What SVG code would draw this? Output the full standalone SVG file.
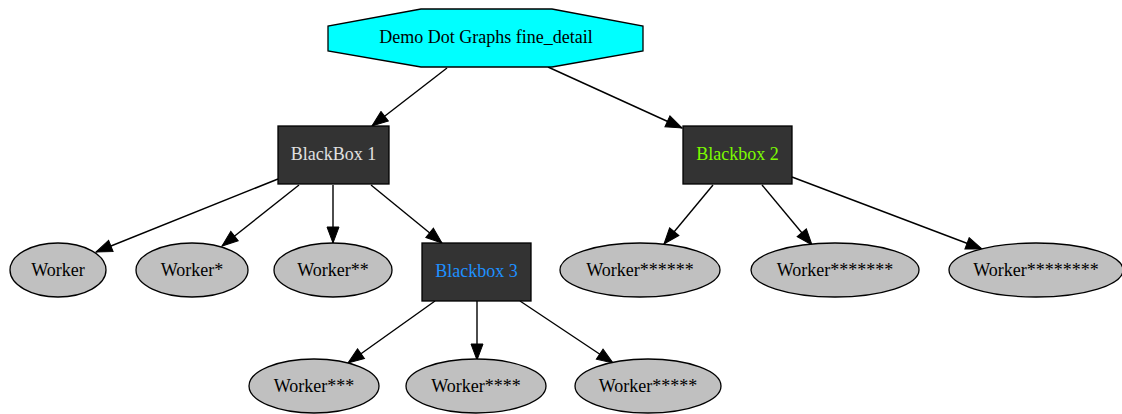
<svg xmlns="http://www.w3.org/2000/svg" width="1122" height="414" viewBox="0 0 1122 414" font-family="'Liberation Serif', 'DejaVu Serif', serif">
<style>
text{font-family:'Liberation Serif','DejaVu Serif',serif;font-size:18px;text-anchor:middle}
.w ellipse{fill:#c0c0c0;stroke:#000;stroke-width:1.3}
.w text{fill:#000}
.bb rect{fill:#333333;stroke:#000;stroke-width:1.3}
.e line{stroke:#000;stroke-width:1.4;marker-end:url(#ah)}
</style>
<defs>
<marker id="ah" markerUnits="userSpaceOnUse" markerWidth="18" markerHeight="14" refX="17" refY="7" orient="auto" viewBox="0 0 18 14">
<path d="M1,1 L17,7 L1,13 Z" fill="#000" stroke="#000" stroke-width="1"/>
</marker>
</defs>
<rect width="1122" height="414" fill="#fff"/>
<g id="edges" class="e">
<line x1="447" y1="68" x2="372" y2="126"/>
<line x1="548" y1="67" x2="682" y2="128"/>
<line x1="278" y1="179" x2="96" y2="252"/>
<line x1="299" y1="185" x2="222" y2="246"/>
<line x1="333" y1="185" x2="333" y2="243"/>
<line x1="371" y1="185" x2="442" y2="243"/>
<line x1="713" y1="185" x2="664" y2="244"/>
<line x1="762" y1="185" x2="812" y2="245"/>
<line x1="792" y1="177" x2="982" y2="249"/>
<line x1="435" y1="301" x2="348" y2="363"/>
<line x1="477" y1="301" x2="477" y2="360"/>
<line x1="520" y1="301" x2="613" y2="363"/>
</g>
<g id="root">
<polygon points="421,9 552,9 643,26 643,51 552,67 421,67 328,51 328,26" fill="#00ffff" stroke="#000" stroke-width="1.3"/>
<text x="486" y="43" font-family="Liberation Serif">Demo Dot Graphs fine_detail</text>
</g>
<g id="bb1" class="bb">
<rect x="278" y="126" width="111" height="58"/>
<text x="333.5" y="160" fill="#e0e0e0">BlackBox 1</text>
</g>
<g id="bb2" class="bb">
<rect x="683" y="126" width="109" height="58"/>
<text x="737.5" y="160" fill="#7cfc00">Blackbox 2</text>
</g>
<g id="bb3" class="bb">
<rect x="422" y="243" width="109" height="58"/>
<text x="476.5" y="277" fill="#1e90ff">Blackbox 3</text>
</g>
<g id="w0" class="w"><ellipse cx="58" cy="270" rx="48" ry="27"/><text x="58" y="276">Worker</text></g>
<g id="w1" class="w"><ellipse cx="192" cy="270" rx="56" ry="27"/><text x="192" y="276">Worker*</text></g>
<g id="w2" class="w"><ellipse cx="333" cy="270" rx="59" ry="27"/><text x="333" y="276">Worker**</text></g>
<g id="w3" class="w"><ellipse cx="314" cy="386" rx="65" ry="27"/><text x="314" y="392">Worker***</text></g>
<g id="w4" class="w"><ellipse cx="476" cy="386" rx="70" ry="27"/><text x="476" y="392">Worker****</text></g>
<g id="w5" class="w"><ellipse cx="648" cy="386" rx="73" ry="27"/><text x="648" y="392">Worker*****</text></g>
<g id="w6" class="w"><ellipse cx="640" cy="270" rx="80" ry="27"/><text x="640" y="276">Worker******</text></g>
<g id="w7" class="w"><ellipse cx="835" cy="270" rx="84" ry="27"/><text x="835" y="276">Worker*******</text></g>
<g id="w8" class="w"><ellipse cx="1036" cy="270" rx="87" ry="27"/><text x="1036" y="276">Worker********</text></g>
</svg>
